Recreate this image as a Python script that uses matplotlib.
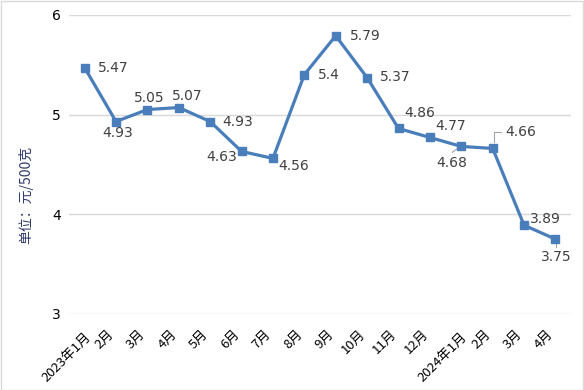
import matplotlib
matplotlib.use("Agg")
import matplotlib.pyplot as plt
from matplotlib.transforms import ScaledTranslation

plt.rcParams['font.family'] = ['DejaVu Sans', 'Noto Sans CJK SC']

categories = ["2023年1月", "2月", "3月", "4月", "5月", "6月", "7月", "8月", "9月",
              "10月", "11月", "12月", "2024年1月", "2月", "3月", "4月"]
values = [5.47, 4.93, 5.05, 5.07, 4.93, 4.63, 4.56, 5.4, 5.79, 5.37, 4.86, 4.77,
          4.68, 4.66, 3.89, 3.75]
yticks = [3, 4, 5, 6]
ylabel = "单位：元/500克"

# label offsets in points (dx, dy, ha)
offsets = [
    (9.4, 0, 'left'),
    (1, -8.6, 'center'),
    (1.5, 8.6, 'center'),
    (5.8, 8, 'center'),
    (8.6, 0, 'left'),
    (-3, -4.3, 'right'),
    (3.6, -5.8, 'left'),
    (10, 0, 'left'),
    (10, 0, 'left'),
    (9.4, 0.5, 'left'),
    (4.3, 10.8, 'left'),
    (3.6, 8, 'left'),
    (-7, -12, 'center'),
    (9.4, 11.5, 'left'),
    (4.3, 4.3, 'left'),
    (0.7, -13, 'center'),
]

# leader lines: (point index, list of offsets in points)
leaders = [
    (12, [(-6.5, -4.2), (-1.4, -0.6)]),
    (13, [(0.7, 4.3), (0.7, 11.5), (5.8, 11.5)]),
    (15, [(0.3, -3.8), (0.3, -5.6)]),
]

fig = plt.figure(figsize=(5.84, 3.90), dpi=100)
ax = fig.add_axes([0.118, 0.195, 0.860, 0.767])

x = list(range(len(categories)))
ax.plot(x, values, color='#4A7EBB', linewidth=2.3, marker='s', markersize=5.5,
        markerfacecolor='#4A7EBB', markeredgecolor='#4A7EBB', zorder=3)

for i, (v, off) in enumerate(zip(values, offsets)):
    dx, dy, ha = off
    ax.annotate(f"{v:g}", (i, v), xytext=(dx, dy), textcoords='offset points',
                ha=ha, va='center', fontsize=10, color='#404040', zorder=4)

for idx, pts in leaders:
    trans = fig.dpi_scale_trans + ScaledTranslation(idx, values[idx], ax.transData)
    xs = [p[0] / 72 for p in pts]
    ys = [p[1] / 72 for p in pts]
    ax.plot(xs, ys, transform=trans, color='#A6A6A6', linewidth=0.8, zorder=2,
            clip_on=False)

ax.set_xlim(-0.5, len(categories) - 0.5)
ax.set_ylim(3, 6)
ax.set_yticks(yticks)
ax.set_yticklabels([str(t) for t in yticks], fontsize=10, color='#000000')
ax.set_xticks(x)
ax.set_xticklabels(categories, rotation=45, ha='right', va='center',
                   rotation_mode='anchor', fontsize=9.5, color='#000000',
                   family=['Noto Sans CJK SC', 'DejaVu Sans'])
ax.tick_params(axis='y', length=0, pad=6)
ax.tick_params(axis='x', length=0, pad=13)
for lbl in ax.get_xticklabels():
    if len(lbl.get_text()) > 4:
        shift = ScaledTranslation(4 / 100, -3 / 100, fig.dpi_scale_trans)
    else:
        shift = ScaledTranslation(-4 / 100, 0, fig.dpi_scale_trans)
    lbl.set_transform(lbl.get_transform() + shift)
ax.grid(axis='y', color='#D9D9D9', linewidth=1)
for s in ax.spines.values():
    s.set_visible(False)

ax.set_ylabel(ylabel, fontsize=10, color='#2F3A6E',
              family=['Noto Sans CJK SC', 'DejaVu Sans'])
ax.yaxis.set_label_coords(-0.072, 0.398)

fig.patches.append(plt.Rectangle((0.001, 0.001), 0.998, 0.997, transform=fig.transFigure,
                                 fill=False, edgecolor='#D9D9D9', linewidth=1))

fig.savefig("out.png", dpi=100)
